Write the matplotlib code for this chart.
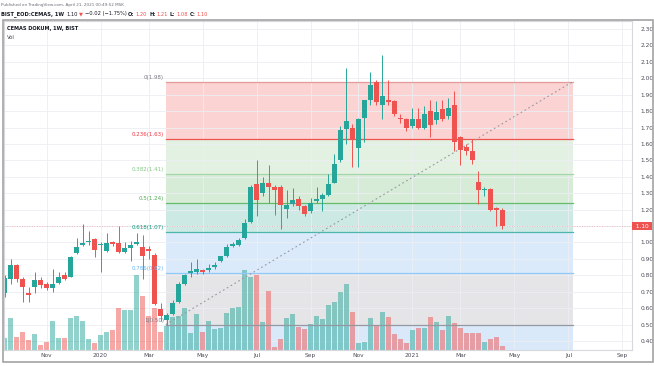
import numpy as np
import pandas as pd
import matplotlib
matplotlib.use("Agg")
import matplotlib.pyplot as plt
from matplotlib import transforms
from matplotlib.patches import Rectangle

# weekly candles, CEMAS (BIST), first bar = week of 16 Sep 2019
first_week = "2019-09-16"
opens = [0.69, 0.78, 0.86, 0.78, 0.69, 0.73, 0.77, 0.745, 0.72, 0.755,
         0.80, 0.79, 0.935, 0.985, 1.00, 1.02, 0.985, 0.945, 1.00, 0.995,
         0.94, 0.965, 0.99, 0.975, 0.96, 0.925, 0.595, 0.53, 0.565, 0.635,
         0.75, 0.815, 0.82, 0.83, 0.83, 0.85, 0.885, 0.92, 0.98, 0.985,
         1.025, 1.125, 1.355, 1.30, 1.36, 1.335, 1.335, 1.205, 1.235, 1.265,
         1.22, 1.19, 1.25, 1.265, 1.29, 1.365, 1.50, 1.69, 1.70, 1.575,
         1.76, 1.87, 1.98, 1.84, 1.865, 1.86, 1.755, 1.755, 1.71, 1.755,
         1.70, 1.80, 1.745, 1.81, 1.77, 1.835, 1.64, 1.58, 1.56, 1.37,
         1.32, 1.325, 1.21, 1.20]
highs = [0.80, 0.90, 0.87, 0.79, 0.73, 0.82, 0.79, 0.76, 0.84, 0.82,
         0.82, 0.92, 1.03, 1.11, 1.07, 1.03, 1.00, 1.06, 1.01, 1.10,
         1.00, 1.01, 1.06, 1.045, 0.98, 0.935, 0.63, 0.57, 0.65, 0.76,
         0.81, 0.88, 0.90, 0.84, 0.87, 0.88, 0.92, 0.99, 1.00, 1.03,
         1.14, 1.35, 1.50, 1.40, 1.47, 1.35, 1.35, 1.32, 1.33, 1.28,
         1.23, 1.27, 1.34, 1.30, 1.42, 1.54, 1.71, 2.06, 1.72, 1.76,
         1.87, 2.04, 1.99, 2.14, 1.99, 1.87, 1.78, 1.76, 1.82, 1.82,
         1.83, 1.87, 1.86, 1.87, 1.88, 1.92, 1.65, 1.60, 1.63, 1.435,
         1.34, 1.33, 1.215, 1.21]
lows = [0.67, 0.75, 0.76, 0.64, 0.64, 0.69, 0.72, 0.71, 0.70, 0.75,
        0.77, 0.79, 0.93, 0.98, 0.985, 0.91, 0.82, 0.94, 0.98, 0.935,
        0.935, 0.89, 0.985, 0.78, 0.90, 0.62, 0.52, 0.50, 0.56, 0.63,
        0.74, 0.79, 0.81, 0.81, 0.82, 0.84, 0.88, 0.91, 0.97, 0.98,
        1.02, 1.12, 1.16, 1.28, 1.24, 1.17, 1.08, 1.15, 1.22, 1.20,
        1.16, 1.18, 1.24, 1.19, 1.28, 1.36, 1.49, 1.60, 1.46, 1.46,
        1.61, 1.84, 1.84, 1.755, 1.84, 1.77, 1.73, 1.68, 1.70, 1.69,
        1.69, 1.645, 1.72, 1.74, 1.75, 1.56, 1.47, 1.53, 1.48, 1.235,
        1.28, 1.19, 1.10, 1.08]
closes = [0.785, 0.86, 0.78, 0.73, 0.68, 0.77, 0.74, 0.72, 0.745, 0.79,
          0.78, 0.91, 0.975, 0.995, 1.01, 0.955, 0.99, 0.995, 0.99, 0.94,
          0.965, 0.985, 1.00, 0.92, 0.95, 0.625, 0.55, 0.56, 0.63, 0.745,
          0.80, 0.825, 0.84, 0.82, 0.845, 0.865, 0.915, 0.975, 0.99, 1.015,
          1.12, 1.34, 1.26, 1.36, 1.335, 1.32, 1.23, 1.23, 1.26, 1.22,
          1.175, 1.24, 1.265, 1.29, 1.355, 1.48, 1.685, 1.74, 1.625, 1.75,
          1.865, 1.96, 1.855, 1.89, 1.855, 1.78, 1.75, 1.70, 1.755, 1.70,
          1.78, 1.715, 1.795, 1.755, 1.82, 1.615, 1.565, 1.56, 1.505, 1.32,
          1.325, 1.20, 1.20, 1.10]
# volume, millions of lots (estimated)
volumes = [1.2, 3.2, 1.3, 1.8, 1.0, 1.6, 0.5, 0.8, 2.9, 1.2,
           1.2, 3.2, 3.4, 2.9, 1.1, 0.7, 1.5, 1.8, 2.0, 4.2,
           4.0, 4.0, 7.5, 5.4, 3.4, 4.2, 1.8, 2.4, 3.3, 3.4,
           4.2, 1.7, 3.6, 1.8, 2.9, 2.1, 2.2, 3.7, 4.2, 4.3,
           8.0, 7.3, 7.5, 2.8, 5.9, 0.3, 1.1, 3.2, 3.6, 2.3,
           2.1, 2.6, 3.4, 3.1, 4.5, 4.8, 5.8, 6.6, 3.8, 0.7,
           0.8, 3.2, 2.4, 3.8, 3.3, 1.6, 1.1, 0.7, 2.0, 2.2,
           2.2, 3.3, 2.8, 2.0, 3.4, 2.7, 2.2, 1.7, 1.7, 1.7,
           0.8, 1.1, 1.3, 0.4]

# fibonacci retracement drawn from 0.50 (week 27) to 1.98
fib_high = 1.98
fib_low = 0.50
fib_levels = [0, 0.236, 0.382, 0.5, 0.618, 0.786, 1]
fib_line_colors = ["#e59a9a", "#ef5350", "#a5d6a7", "#66bb6a", "#4db6ac", "#90caf9", "#9598a1"]
fib_text_colors = ["#787b86", "#f23645", "#81c784", "#4caf50", "#089981", "#64b5f6", "#787b86"]
fib_fill_colors = ["#fbd3d3", "#e2f1e1", "#d7ecd6", "#cde9e3", "#dbeafb", "#e5e5e7", "#d9e9fa"]
fib_start, fib_end = 26.87, 94.75

GREEN = "#26a69a"
RED = "#ef5350"
plt.rcParams["font.family"] = ["DejaVu Sans"]

o = np.array(opens); h = np.array(highs); l = np.array(lows); c = np.array(closes)
v = np.array(volumes)
n = len(o)
idx = np.arange(n)
weeks = pd.date_range(first_week, periods=106, freq="W-MON")

W, H = 654, 366
fig = plt.figure(figsize=(W / 100, H / 100), dpi=100)
fig.patch.set_facecolor("white")

def fx(px):
    return px / W

def fy(py):
    return 1 - py / H

ax = fig.add_axes([fx(4), fy(350), fx(632) - fx(4), fy(21) - fy(350)])
ax.set_xlim(-0.1, 104.6)
ax.set_ylim(0.345, 2.349)

# fib zones
lv = [fib_high - f * (fib_high - fib_low) for f in fib_levels]
bounds = lv + [0.0]
for k in range(len(lv)):
    ax.fill_between([fib_start, fib_end], bounds[k + 1], bounds[k],
                    color=fib_fill_colors[k], lw=0, zorder=0.3)

# grid, month ticks every second month
months = []
month_labels = []
for i, d in enumerate(weeks):
    if i == 0 or d.month == weeks[i - 1].month:
        continue
    if d.month % 2 == 1:
        months.append(i)
        month_labels.append(str(d.year) if d.month == 1 else d.strftime("%b"))
ax.set_xticks(months)
ax.set_xticklabels(month_labels)
ax.set_yticks(np.round(np.arange(0.4, 2.31, 0.1), 2))
# the 1.10 tick sits under the last-price box
ax.yaxis.set_major_formatter(matplotlib.ticker.FuncFormatter(
    lambda y, p: "" if abs(y - closes[-1]) < 0.01 else "%.2f" % y))
ax.grid(True, color="#eceef3", lw=0.6, zorder=0.4)
ax.set_axisbelow(True)

# volume bars, bottom part of the pane
vol_top = 32.9
vol_tr = transforms.blended_transform_factory(ax.transData, ax.transAxes)
vol_cols = np.where(c >= o, GREEN, RED)
ax.bar(idx, v / vol_top, width=0.86, bottom=0, color=vol_cols, alpha=0.5,
       lw=0, transform=vol_tr, zorder=1)

# fib lines and labels
for k, f in enumerate(fib_levels):
    ax.plot([fib_start, fib_end], [lv[k], lv[k]], color=fib_line_colors[k], lw=0.9, zorder=1.5)
    ax.text(fib_start - 0.3, lv[k] + 0.012, "%g(%.2f)" % (f, lv[k]), ha="right", va="bottom",
            fontsize=4, color=fib_text_colors[k], zorder=3)
ax.plot([fib_start, fib_end], [fib_low, fib_high], color="#9598a1", lw=0.8,
        ls=(0, (1.5, 2.5)), zorder=1.6)

# last price line
ax.axhline(closes[-1], color=RED, lw=0.6, ls=(0, (1, 2)), alpha=0.45, zorder=1.4)

# candles
cols = np.where(c >= o, GREEN, RED)
ax.vlines(idx, l, h, colors=cols, lw=0.7, zorder=2)
body_lo = np.minimum(o, c)
body_h = np.maximum(np.abs(c - o), 0.006)
ax.bar(idx, body_h, width=0.7, bottom=body_lo, color=cols, lw=0, zorder=2.1)

# axes cosmetics
for s in ax.spines.values():
    s.set_color("#d6d8de")
    s.set_linewidth(0.8)
ax.yaxis.tick_right()
ax.tick_params(axis="y", length=0, pad=6, labelsize=4.2, labelcolor="#4a4d57")
ax.tick_params(axis="x", length=0, pad=2.5, labelsize=4.2, labelcolor="#4a4d57")

# price label on the scale
ax.text(1.003, closes[-1], " 1.10 ", transform=transforms.blended_transform_factory(ax.transAxes, ax.transData),
        ha="left", va="center", fontsize=4.2, color="white", zorder=5,
        bbox=dict(boxstyle="square,pad=0.3", fc=RED, ec="none"))

# outer frame
fig.add_artist(Rectangle((fx(2.5), fy(362)), fx(653) - fx(2.5), fy(20) - fy(362),
                         transform=fig.transFigure, fill=False, ec="#a3a3a3", lw=1.2))

# legend texts
ax.text(fx(7), fy(28.5), "CEMAS DOKUM, 1W, BIST", transform=fig.transFigure, fontsize=3.6,
        fontweight="bold", color="#131722", va="center")
ax.text(fx(7), fy(37.5), "Vol", transform=fig.transFigure, fontsize=3.8,
        color="#4a4d57", va="center")

fig.text(fx(1), fy(5), "Published on TradingView.com, April 21, 2021 00:49:52 MSK",
         fontsize=3.0, color="#6a6d78", va="center")

pieces = [("BIST_EOD:CEMAS, 1W", "#131722", "bold", 2.0),
          ("1.10", "#131722", "normal", 1.5),
          ("\u25bc", RED, "normal", 1.5),
          ("\u22120.02 (\u22121.75%)", "#131722", "normal", 2.0),
          ("O:", "#131722", "bold", 1.0),
          ("1.20", RED, "normal", 2.0),
          ("H:", "#131722", "bold", 1.0),
          ("1.21", RED, "normal", 2.0),
          ("L:", "#131722", "bold", 1.0),
          ("1.08", RED, "normal", 2.0),
          ("C:", "#131722", "bold", 1.0),
          ("1.10", RED, "normal", 2.0)]
rend = fig.canvas.get_renderer()
x = 1.0
for s, col, wt, gap in pieces:
    t = fig.text(fx(x), fy(14), s, fontsize=3.7, color=col, fontweight=wt, va="center")
    bb = t.get_window_extent(rend)
    x = bb.x1 + gap

fig.savefig("out.png", dpi=100)
